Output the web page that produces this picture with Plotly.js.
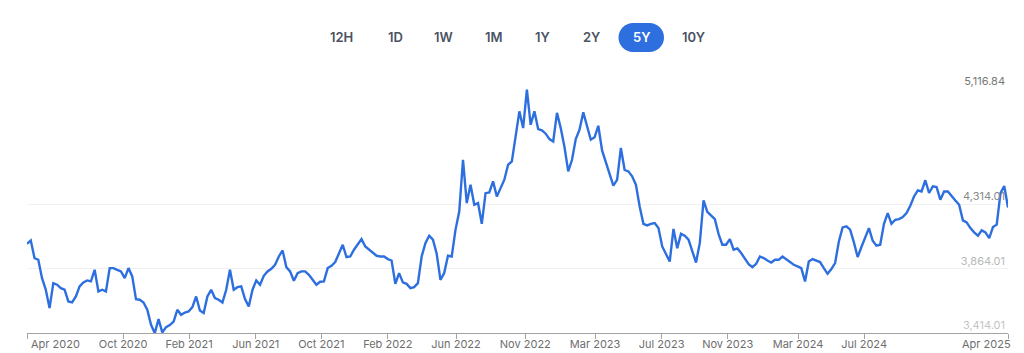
<!DOCTYPE html>
<html>
<head>
<meta charset="utf-8">
<script src="https://cdn.plot.ly/plotly-3.0.1.min.js"></script>
<style>
html,body{margin:0;padding:0;background:#fff;}
#chart{width:1024px;height:353px;}
</style>
</head>
<body>
<div id="chart"></div>
<script>
// ---- data (weekly samples) ----
const startDate = '2020-04-08';
const stepDays = 7;
const prices = [
4037,4060,3937,3925,3797,3716,3588,3762,3751,3727,
3716,3634,3627,3669,3739,3767,3781,3774,3855,3704,
3716,3704,3867,3867,3855,3844,3797,3867,3809,3650,
3646,3627,3576,3471,3413,3511,3418,3455,3469,3494,
3576,3541,3557,3564,3595,3669,3571,3553,3669,3715,
3658,3646,3627,3716,3855,3716,3734,3739,3651,3599,
3716,3781,3751,3813,3844,3862,3890,3948,3990,3874,
3844,3779,3832,3844,3844,3820,3786,3751,3772,3774,
3867,3883,3909,3976,4030,3944,3948,3995,4030,4069,
4018,3995,3972,3953,3948,3948,3930,3920,3757,3832,
3767,3757,3727,3734,3762,3948,4041,4093,4065,3967,
3785,3832,3953,3948,4134,4262,4623,4321,4449,4309,
4321,4176,4390,4395,4472,4367,4425,4484,4588,4611,
4786,4961,4844,5112,4867,4961,4837,4828,4805,4767,
4751,4950,4844,4712,4542,4623,4767,4833,4954,4851,
4763,4780,4860,4688,4605,4530,4442,4483,4705,4553,
4542,4507,4449,4297,4176,4165,4176,4181,4146,4018,
3960,3913,4140,4006,4106,4093,4065,3983,3906,4041,
4340,4260,4232,4209,4104,4030,4030,4069,3995,4004,
3972,3930,3895,3874,3897,3948,3937,3920,3906,3925,
3925,3948,3930,3906,3890,3879,3867,3774,3913,3930,
3918,3909,3867,3827,3860,3902,4053,4151,4158,4135,
4046,3944,4014,4076,4146,4058,4023,4030,4176,4250,
4176,4204,4209,4223,4251,4302,4367,4409,4402,4480,
4391,4437,4432,4344,4402,4402,4367,4339,4309,4200,
4186,4146,4116,4093,4130,4116,4076,4153,4170,4390,
4440,4290
];
const tickDates = ['2020-04-08','2020-10-04','2021-02-04','2021-06-08','2021-10-08','2022-02-09','2022-06-16','2022-10-23','2023-03-02','2023-07-04','2023-11-04','2024-03-14','2024-07-15','2025-04-09'];
const tickLabels = ['Apr 2020','Oct 2020','Feb 2021','Jun 2021','Oct 2021','Feb 2022','Jun 2022','Nov 2022','Mar 2023','Jul 2023','Nov 2023','Mar 2024','Jul 2024','Apr 2025'];
const yTickVals = [3414.01, 3864.01, 4314.01, 5116.84];
const yTickLabels = ['3,414.01','3,864.01','4,314.01','5,116.84'];
const yTickColors = ['#c4c4c4','#b8b8b8','#8a8a8a','#777777'];
const rangeButtons = ['12H','1D','1W','1M','1Y','2Y','5Y','10Y'];
const activeButton = '5Y';

// ---- build dates ----
const dates = [];
const t0 = Date.parse(startDate + 'T00:00:00Z');
for (let i = 0; i < prices.length; i++) {
  dates.push(new Date(t0 + i * stepDays * 86400000).toISOString().slice(0, 10));
}

// ---- geometry helpers ----
const W = 1024, H = 353, L = 27, R = 16, T = 89, B = 20;
const PW = W - L - R, PH = H - T - B;
const px = x => (x - L) / PW;
const py = y => (H - B - y) / PH;

const BLUE = '#2e6fdf';
const FONT = 'Inter, "Noto Sans", sans-serif';

// buttons
const btnCenters = [341.7, 395, 443.3, 494.3, 542.3, 591.7, 641, 693.3];
const btnY = 37.5;
const annotations = rangeButtons.map((b, i) => ({
  text: b, xref: 'paper', yref: 'paper', x: px(btnCenters[i]), y: py(btnY),
  xanchor: 'center', yanchor: 'middle', showarrow: false,
  font: {family: FONT, size: 13, weight: 600, color: b === activeButton ? '#ffffff' : '#4a5364'}
}));
// edge x labels
annotations.push({text: tickLabels[0], xref: 'paper', yref: 'paper', x: px(55), y: py(343.5),
  xanchor: 'center', yanchor: 'middle', showarrow: false, font: {family: FONT, size: 11, color: '#6e6e6e'}});
annotations.push({text: tickLabels[tickLabels.length - 1], xref: 'paper', yref: 'paper', x: px(986), y: py(343.5),
  xanchor: 'center', yanchor: 'middle', showarrow: false, font: {family: FONT, size: 11, color: '#6e6e6e'}});

// pill path
function pillPath(x0, x1, y0, y1) {
  const r = (y1 - y0) / 2, k = 0.5523 * r, ym = (y0 + y1) / 2;
  const P = (x, y) => px(x).toFixed(5) + ',' + py(y).toFixed(5);
  return 'M' + P(x0 + r, y0) + ' L' + P(x1 - r, y0) +
    ' C' + P(x1 - r + k, y0) + ' ' + P(x1, ym - k) + ' ' + P(x1, ym) +
    ' C' + P(x1, ym + k) + ' ' + P(x1 - r + k, y1) + ' ' + P(x1 - r, y1) +
    ' L' + P(x0 + r, y1) +
    ' C' + P(x0 + r - k, y1) + ' ' + P(x0, ym + k) + ' ' + P(x0, ym) +
    ' C' + P(x0, ym - k) + ' ' + P(x0 + r - k, y0) + ' ' + P(x0 + r, y0) + ' Z';
}
const shapes = [{
  type: 'path', xref: 'paper', yref: 'paper', path: pillPath(618.5, 664, 23, 52),
  fillcolor: BLUE, line: {width: 0}, layer: 'below'
}];

const xTickText = tickLabels.map((t, i) => (i === 0 || i === tickLabels.length - 1) ? '' : t);
const yTickText = yTickLabels.map((t, i) => '<span style="color:' + yTickColors[i] + '">' + t + '</span>');

const trace = {
  x: dates, y: prices, type: 'scatter', mode: 'lines',
  line: {color: BLUE, width: 2.4}, hoverinfo: 'skip'
};

const layout = {
  width: W, height: H,
  margin: {l: L, r: R, t: T, b: B, pad: 0},
  paper_bgcolor: '#ffffff', plot_bgcolor: '#ffffff',
  showlegend: false,
  xaxis: {
    type: 'date', range: [dates[0], dates[dates.length - 1]],
    tickmode: 'array', tickvals: tickDates, ticktext: xTickText,
    ticks: 'outside', ticklen: 5, tickcolor: '#a3a3a3', tickwidth: 1,
    ticklabelstandoff: -4,
    showline: true, linecolor: '#a3a3a3', linewidth: 1,
    showgrid: false, zeroline: false,
    tickfont: {family: FONT, size: 11, color: '#6e6e6e'}
  },
  yaxis: {
    range: [3414.01, 5116.84],
    tickmode: 'array', tickvals: yTickVals, ticktext: yTickText,
    side: 'right', ticklabelposition: 'inside top', ticklabeloverflow: 'allow',
    ticks: '', showline: false, zeroline: false,
    showgrid: true, gridcolor: '#f1f1f1', gridwidth: 1,
    tickfont: {family: FONT, size: 11, color: '#8a8a8a'}
  },
  annotations: annotations,
  shapes: shapes
};

Plotly.newPlot('chart', [trace], layout, {staticPlot: true, displayModeBar: false});
</script>
</body>
</html>
